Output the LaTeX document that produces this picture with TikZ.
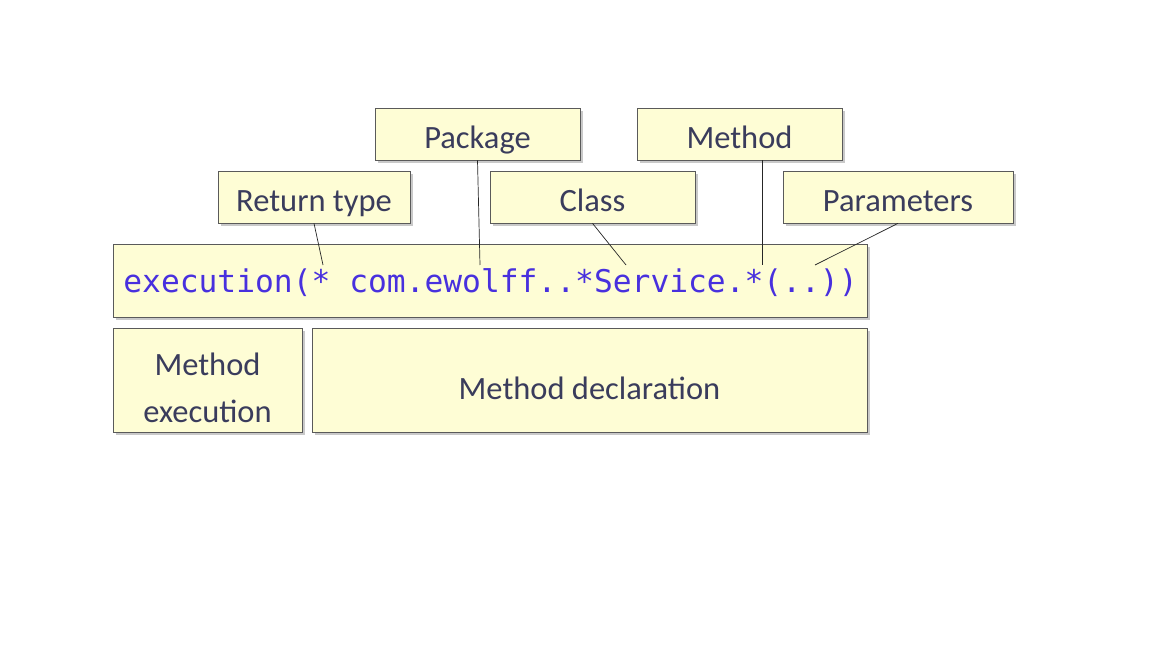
\documentclass[tikz,border=0pt]{standalone}
\usepackage{fontspec}
\setmainfont{Carlito}
\newfontfamily\codefont{DejaVu Sans Mono}
\usetikzlibrary{positioning, shadows}
\definecolor{NoteFill}{RGB}{254, 253, 213}
\definecolor{NoteLine}{RGB}{90, 90, 90}
\definecolor{LabelInk}{RGB}{58, 60, 92}
\definecolor{CodeInk}{RGB}{72, 48, 222}

\begin{document}
\begin{tikzpicture}[
    x=0.02cm, y=-0.02cm,
    note/.style={rectangle, draw=NoteLine, fill=NoteFill, thin, inner sep=0pt,
        minimum height=1.04cm, text=LabelInk, text height=17pt, text depth=0pt,
        font=\fontsize{18.5}{26.7}\selectfont,
        drop shadow={shadow xshift=1.5pt, shadow yshift=-1.5pt, opacity=0.3, fill=black!70}},
    pointer/.style={draw=black!85, thin}
]
\useasboundingbox (0,0) rectangle (1152,648);

% Labels above the expression
\node[note, minimum width=4.1cm] (package) at (477.5,134) {Package};
\node[note, minimum width=4.1cm] (method) at (739.5,134) {Method};
\node[note, minimum width=3.84cm] (rettype) at (314,197) {Return type};
\node[note, minimum width=4.1cm] (class) at (592.5,197) {Class};
\node[note, minimum width=4.6cm] (params) at (898,197) {Parameters};

% The pointcut expression
\node[note, minimum width=15.08cm, minimum height=1.46cm, text=CodeInk,
    text height=14.2pt, font=\codefont\fontsize{17.8}{20}\selectfont] (code) at (490.5,280.5)
    {execution(* com.ewolff..*Service.*(..))};

% Parts below
\node[note, minimum width=3.78cm, minimum height=2.08cm, align=center,
    text height=, text depth=] (exec) at (207.5,380)
    {\rule{0pt}{22pt}Method\\execution};
\node[note, minimum width=11.1cm, minimum height=2.08cm, text height=22pt] (decl) at (589.5,380)
    {Method declaration};

% Pointer ends inside the expression
\coordinate (rtip) at (323,265);
\coordinate (ptip) at (480,265);
\coordinate (ctip) at (626,265);
\coordinate (mtip) at (762,265);
\coordinate (atip) at (815,265);

\draw[pointer] (rettype.south) -- (rtip);
\draw[pointer] (package.south) -- (ptip);
\draw[pointer] (class.south) -- (ctip);
\draw[pointer] (method.south -| mtip) -- (mtip);
\draw[pointer] (params.south) -- (atip);

\end{tikzpicture}
\end{document}
